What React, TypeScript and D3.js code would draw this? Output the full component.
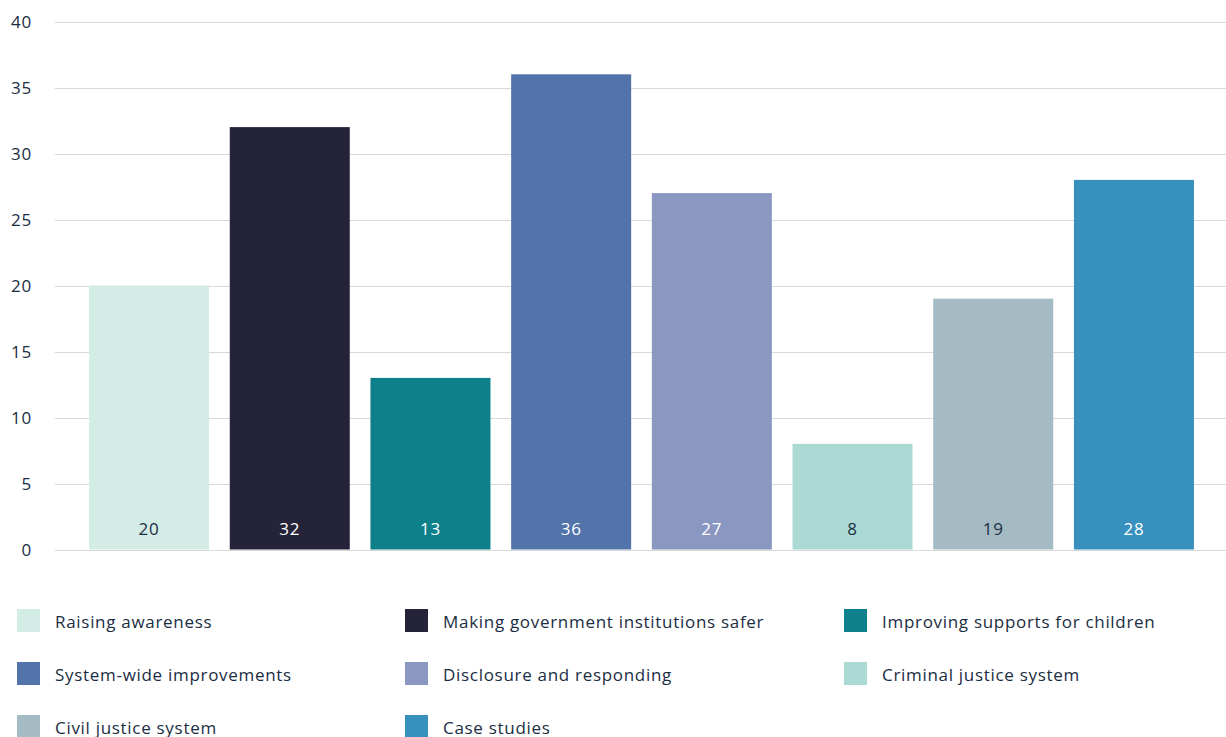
import React from "react";
import * as d3 from "d3";

const categories = [
  "Raising awareness",
  "Making government institutions safer",
  "Improving supports for children",
  "System-wide improvements",
  "Disclosure and responding",
  "Criminal justice system",
  "Civil justice system",
  "Case studies",
];
const values = [20, 32, 13, 36, 27, 8, 19, 28];
const colors = ["#d3ece5", "#24233a", "#0d808c", "#5373ab", "#8a97c0", "#aadad3", "#a4bbc4", "#3790bd"];
const labelColors = ["#1c2e44", "#ffffff", "#ffffff", "#ffffff", "#ffffff", "#1c2e44", "#1c2e44", "#ffffff"];
const yTicks = [0, 5, 10, 15, 20, 25, 30, 35, 40];

const W = 1226;
const H = 737;
const FONT = "'Open Sans', sans-serif";
const TEXT = "#1a2d43";

export default function App() {
  const x = d3.scaleBand<string>().domain(categories).range([56, 1227]).paddingInner(0.147).paddingOuter(0.235);
  const y = d3.scaleLinear().domain([0, 40]).range([549.5, 21.5]);
  const legendCols = [17, 405, 844];
  const legendRows = [621, 674, 727];

  return (
    <svg width={W} height={H} style={{ position: "absolute", left: 0, top: 0 }} fontFamily={FONT}>
      <rect width={W} height={H} fill="#ffffff" />
      {yTicks.map((t) => (
        <g key={t}>
          <line x1={55} x2={1226} y1={Math.round(y(t)) + 0.5} y2={Math.round(y(t)) + 0.5} stroke="#d9d9d9" strokeWidth={1} />
          <text x={32} y={y(t)} dy="0.38em" textAnchor="end" fontSize={17} letterSpacing={0.8} fill={TEXT}>
            {t}
          </text>
        </g>
      ))}
      {categories.map((c, i) => (
        <g key={c}>
          <rect x={x(c)} y={y(values[i])} width={x.bandwidth()} height={y(0) - y(values[i])} fill={colors[i]} />
          <text x={(x(c) as number) + x.bandwidth() / 2} y={528} dy="0.4em" textAnchor="middle" fontSize={17} letterSpacing={0.8} fill={labelColors[i]}>
            {values[i]}
          </text>
        </g>
      ))}
      {categories.map((c, i) => {
        const col = i % 3;
        const row = Math.floor(i / 3);
        const lx = legendCols[col];
        const ly = legendRows[row];
        return (
          <g key={"lg" + c}>
            <rect x={lx} y={ly - 12} width={23} height={23} fill={colors[i]} />
            <text x={lx + 38} y={ly} dy="0.4em" fontSize={17} fill={TEXT} letterSpacing={0.7}>
              {c}
            </text>
          </g>
        );
      })}
    </svg>
  );
}
